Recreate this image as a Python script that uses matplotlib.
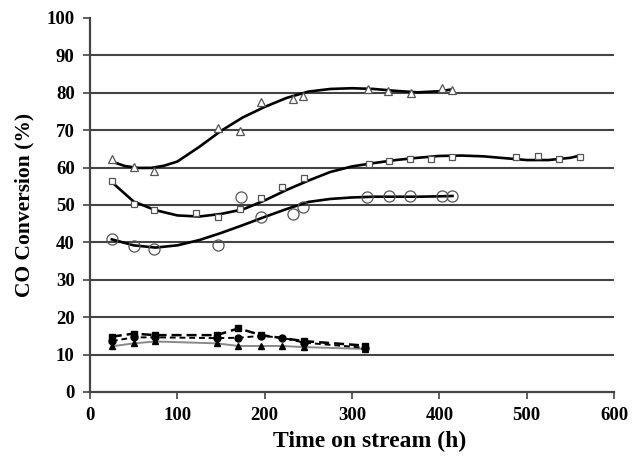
import numpy as np
import matplotlib
matplotlib.use('Agg')
import matplotlib.pyplot as plt

plt.rcParams['font.family'] = ['Liberation Serif', 'DejaVu Serif']
plt.rcParams['font.weight'] = 'bold'

# ── data ──────────────────────────────────────────────────────
# open triangles
tri_x = [25, 50, 73, 146, 172, 196, 232, 244, 318, 341, 367, 403, 415]
tri_y = [62.3, 60.1, 59.2, 70.7, 69.8, 77.5, 78.3, 79.2, 81.0, 80.5, 80.0, 81.2, 80.6]
tri_trend_x = [25, 40, 55, 70, 85, 100, 125, 150, 175, 200, 225, 250, 275, 300, 325, 350, 375, 400, 415]
tri_trend_y = [61.6, 60.4, 59.9, 59.9, 60.5, 61.6, 65.5, 69.8, 73.4, 76.2, 78.6, 80.3, 81.0, 81.2, 81.0, 80.5, 80.1, 80.4, 80.9]

# open squares
sq_x = [25, 50, 73, 121, 147, 172, 196, 220, 245, 319, 342, 366, 391, 415, 488, 513, 537, 561]
sq_y = [56.5, 50.3, 48.7, 47.8, 46.9, 49.0, 51.8, 54.8, 57.1, 60.9, 61.8, 62.3, 62.4, 62.9, 62.9, 63.2, 62.4, 62.7]
sq_trend_x = [25, 50, 75, 100, 125, 150, 175, 200, 225, 250, 275, 300, 325, 350, 375, 400, 425, 450, 475, 500, 525, 550, 561]
sq_trend_y = [56.1, 50.9, 48.6, 47.2, 46.9, 47.6, 48.8, 51.2, 54.0, 56.5, 58.8, 60.3, 61.2, 62.0, 62.6, 63.1, 63.2, 63.0, 62.5, 62.0, 62.0, 62.6, 63.2]

# open circles
ci_x = [25, 50, 73, 147, 173, 196, 232, 244, 317, 342, 366, 403, 415]
ci_y = [40.8, 39.1, 38.1, 39.4, 52.2, 46.8, 47.6, 49.4, 52.2, 52.5, 52.4, 52.5, 52.5]
ci_trend_x = [25, 50, 75, 100, 125, 150, 175, 200, 225, 250, 275, 300, 325, 350, 375, 400, 415]
ci_trend_y = [40.8, 39.2, 38.6, 39.2, 40.6, 42.5, 44.6, 46.8, 48.9, 50.8, 51.6, 52.0, 52.2, 52.2, 52.2, 52.3, 52.4]

# filled markers (low conversion)
fsq_x = [25, 50, 75, 145, 170, 196, 245, 315]
fsq_y = [14.8, 15.6, 15.2, 15.2, 17.0, 15.2, 13.6, 12.4]
fci_x = [25, 50, 75, 145, 170, 196, 220, 245, 315]
fci_y = [13.6, 14.6, 14.6, 14.4, 14.5, 15.0, 14.5, 13.2, 11.8]
ftr_x = [25, 50, 75, 145, 170, 196, 220, 245, 315]
ftr_y = [12.2, 13.0, 13.5, 13.0, 12.3, 12.3, 12.3, 12.0, 11.5]

x_ticks = [0, 100, 200, 300, 400, 500, 600]
y_ticks = [0, 10, 20, 30, 40, 50, 60, 70, 80, 90, 100]

# ── plot ──────────────────────────────────────────────────────
fig = plt.figure(figsize=(6.35, 4.59), dpi=100)
ax = fig.add_axes([0.1417, 0.146, 0.8253, 0.815])

GRID = '#444444'
for yv in y_ticks[1:-1]:
    ax.axhline(yv, color=GRID, lw=1.5, zorder=1)

# trend lines
for tx, ty in [(tri_trend_x, tri_trend_y), (sq_trend_x, sq_trend_y), (ci_trend_x, ci_trend_y)]:
    ax.plot(tx, ty, color='black', lw=1.9, zorder=3, solid_joinstyle='round')

# open markers
ax.plot(tri_x, tri_y, ls='none', marker='^', ms=5.5, mfc='white', mec='#555555', mew=0.9, zorder=4)
ax.plot(sq_x, sq_y, ls='none', marker='s', ms=4.5, mfc='white', mec='#555555', mew=0.9, zorder=4)
ax.plot(ci_x, ci_y, ls='none', marker='o', ms=8, mfc='none', mec='#555555', mew=0.9, zorder=4)

# filled series
ax.plot(ftr_x, ftr_y, color='#888888', lw=1.4, marker='^', ms=5, mfc='black', mec='black', zorder=3)
ax.plot(fci_x, fci_y, color='black', lw=1.4, ls=(0, (3, 2)), marker='o', ms=5, mfc='black', mec='black', zorder=3)
ax.plot(fsq_x, fsq_y, color='black', lw=1.8, ls=(0, (4, 2)), marker='s', ms=4.5, mfc='black', mec='black', zorder=3)

ax.set_xlim(0, 600)
ax.set_ylim(0, 100)
ax.set_xticks(x_ticks)
ax.set_yticks(y_ticks)
ax.tick_params(direction='out', length=5, width=1.2, color='#444444', labelsize=13.5, pad=6)
for lab in ax.get_xticklabels() + ax.get_yticklabels():
    lab.set_fontweight('bold')

for s in ['top', 'right']:
    ax.spines[s].set_visible(False)
for s in ['left', 'bottom']:
    ax.spines[s].set_color('#444444')
    ax.spines[s].set_linewidth(1.6)

ax.set_xlabel('Time on stream (h)', fontsize=17, fontweight='bold', labelpad=5)
ax.xaxis.set_label_coords(0.534, -0.103)
ax.set_ylabel('CO Conversion (%)', fontsize=15.5, fontweight='bold', labelpad=9)

fig.savefig('out.png', dpi=100)
